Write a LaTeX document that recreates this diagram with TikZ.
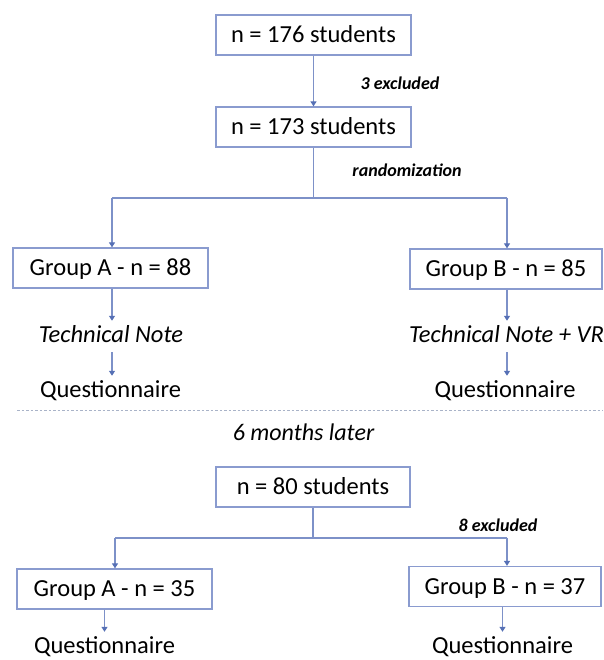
\documentclass[tikz,border=0pt]{standalone}
\usepackage{fontspec}
\setmainfont{Carlito}
\usetikzlibrary{arrows.meta}
\definecolor{boxc}{HTML}{8A9BCF}
\definecolor{linec}{HTML}{7D91C8}
\definecolor{tipc}{HTML}{5670B5}
\definecolor{sepc}{HTML}{A9B3C8}
\begin{document}
\begin{tikzpicture}[x=1pt,y=-1pt,
  box/.style={draw=boxc, line width=1.3pt, minimum height=40pt, inner sep=0pt,
    font=\fontsize{24.5}{28}\selectfont, text height=15pt, text depth=0pt},
  lbl/.style={inner sep=0pt, inner ysep=6pt, font=\fontsize{24.5}{28}\selectfont,
    text height=15pt, text depth=4pt},
  small/.style={inner sep=0pt, font=\fontsize{18}{20}\selectfont\bfseries\itshape},
  conn/.style={draw=linec, line width=1.2pt},
  arr/.style={conn, -{Triangle[width=6pt,length=5pt,color=tipc]}}
]
\useasboundingbox (0,0) rectangle (603,660);

% upper part
\node[box, minimum width=195pt] (s176) at (313.5,35) {n = 176 students};
\node[box, minimum width=195pt] (s173) at (313.5,127) {n = 173 students};
\node[small] (ex3) at (400,83) {3 excluded};
\node[small] (rand) at (407,170) {randomization};
\coordinate (sp1) at (313.5,198);
\coordinate (spL1) at (112,198);
\coordinate (spR1) at (507,198);

\node[box, minimum width=195pt] (ga88) at (110.5,268) {Group A - n = 88};
\node[box, minimum width=192pt] (gb85) at (506,269) {Group B - n = 85};
\node[lbl, anchor=base] (ta) at (111,342) {\itshape Technical Note};
\node[lbl, anchor=base] (tb) at (506.5,342) {\itshape Technical Note + VR};
\node[lbl, anchor=base] (qa1) at (110.5,397) {Questionnaire};
\node[lbl, anchor=base] (qb1) at (505,397) {Questionnaire};

\draw[arr] (s176) -- (s173);
\draw[conn] (s173.south) -- (sp1);
\draw[conn] (spL1) -- (spR1);
\draw[arr] (spL1) -- (spL1 |- ga88.north);
\draw[arr] (spR1) -- (spR1 |- gb85.north);
\draw[arr] (ga88.south -| spL1) -- (spL1 |- ta.north);
\draw[arr] (gb85.south -| spR1) -- (spR1 |- tb.north);
\draw[arr] (ta.south -| spL1) -- (spL1 |- qa1.north);
\draw[arr] (tb.south -| spR1) -- (spR1 |- qb1.north);

% separator
\coordinate (sepL) at (17,410);
\coordinate (sepR) at (603,410);
\draw[sepc, line width=1pt, dash pattern=on 2.5pt off 2pt] (sepL) -- (sepR);
\node[inner sep=0pt, font=\fontsize{24}{28}\selectfont\itshape] (later) at (303.5,432) {6 months later};

% lower part
\node[box, minimum width=194pt] (s80) at (313,487) {n = 80 students};
\coordinate (sp2) at (313,538);
\coordinate (spL2) at (115,538);
\coordinate (spR2) at (507,538);
\node[small] (ex8) at (498,525) {8 excluded};
\node[box, minimum width=195pt] (ga35) at (114.5,589) {Group A - n = 35};
\node[box, minimum width=192pt] (gb37) at (505,586.5) {Group B - n = 37};
\node[lbl, anchor=base] (qa2) at (104.5,653) {Questionnaire};
\node[lbl, anchor=base] (qb2) at (502.5,653) {Questionnaire};

\draw[conn] (s80.south -| sp2) -- (sp2);
\draw[conn] (spL2) -- (spR2);
\draw[arr] (spL2) -- (spL2 |- ga35.north);
\draw[arr] (spR2) -- (spR2 |- gb37.north);
\draw[arr] (ga35.south -| qa2) -- (qa2.north);
\draw[arr] (gb37.south -| qb2) -- (qb2.north);
\end{tikzpicture}
\end{document}
